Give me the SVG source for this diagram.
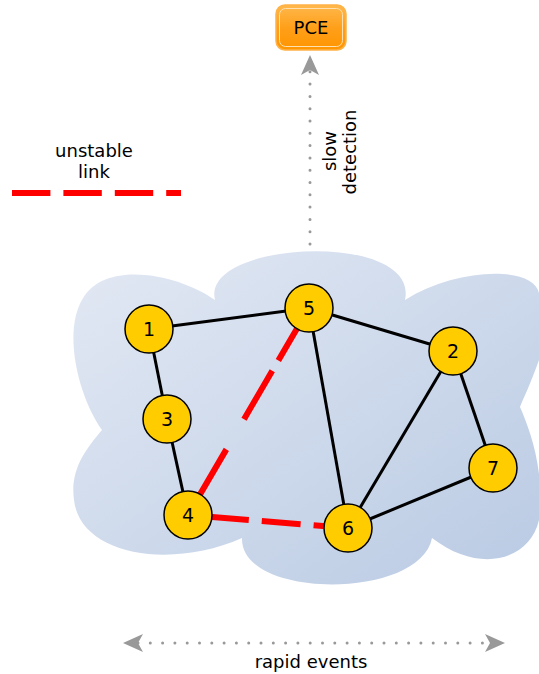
<svg xmlns="http://www.w3.org/2000/svg" width="539" height="674" viewBox="0 0 539 674">
<defs>
<linearGradient id="cloudG" x1="0" y1="0" x2="1" y2="1">
<stop offset="0" stop-color="#e3e9f4"/>
<stop offset="1" stop-color="#b9cae3"/>
</linearGradient>
<linearGradient id="pceG" x1="0" y1="0" x2="0" y2="1">
<stop offset="0" stop-color="#ffb84d"/>
<stop offset="0.5" stop-color="#ffa01a"/>
<stop offset="1" stop-color="#ff9500"/>
</linearGradient>
<marker id="arr" viewBox="0 0 20 18" refX="5" refY="9" markerWidth="20" markerHeight="18" markerUnits="userSpaceOnUse" orient="auto-start-reverse">
<path d="M0,0 L20,9 L0,18 L5,9 Z" fill="#999"/>
</marker>
</defs>
<style>
.edge{stroke:#000;stroke-width:3;fill:none}
.bad{stroke:#ff0000;stroke-width:6;fill:none}
.node circle{fill:#ffcc00;stroke:#000;stroke-width:1.5}
.node text{font-family:"DejaVu Sans",sans-serif;font-size:19px;text-anchor:middle;fill:#000}
.lbl{font-family:"DejaVu Sans",sans-serif;font-size:18px;text-anchor:middle;fill:#000}
.dot{stroke:#999;stroke-width:3;stroke-linecap:round;stroke-dasharray:0 12.3;fill:none}
</style>
<g id="cloud">
<path d="M215,300 C200,240 420,230 405,300 C460,265 545,265 539,300 L539,360 C530,385 525,395 520,407 C530,430 545,470 539,520 C530,560 480,575 432,538 C420,600 240,600 242,538 C170,570 80,555 74,500 C70,470 85,450 102,430 C80,400 60,330 85,295 C110,260 180,275 215,300 Z" fill="url(#cloudG)"/>
</g>
<g id="connectors">
<line class="edge" x1="149" y1="329" x2="309" y2="308"/>
<line class="edge" x1="149" y1="329" x2="167" y2="419"/>
<line class="edge" x1="167" y1="419" x2="188" y2="515"/>
<line class="edge" x1="309" y1="308" x2="453" y2="351"/>
<line class="edge" x1="309" y1="308" x2="348" y2="528"/>
<line class="edge" x1="453" y1="351" x2="348" y2="528"/>
<line class="edge" x1="453" y1="351" x2="493" y2="468"/>
<line class="edge" x1="493" y1="468" x2="348" y2="528"/>
<line class="bad" x1="188" y1="515" x2="309" y2="308" stroke-dasharray="76 35 56 12 80"/>
<line class="bad" x1="188" y1="515" x2="348" y2="528" stroke-dasharray="61 13 39 13 50"/>
<line class="dot" x1="310" y1="244" x2="310" y2="70" marker-end="url(#arr)"/>
<line class="dot" x1="138" y1="643" x2="490" y2="643" marker-start="url(#arr)" marker-end="url(#arr)"/>
</g>
<g id="n1" class="node"><circle cx="149" cy="329" r="24"/><text x="149" y="336">1</text></g>
<g id="n5" class="node"><circle cx="309" cy="308" r="24"/><text x="309" y="315">5</text></g>
<g id="n2" class="node"><circle cx="453" cy="351" r="24"/><text x="453" y="358">2</text></g>
<g id="n3" class="node"><circle cx="167" cy="419" r="24"/><text x="167" y="426">3</text></g>
<g id="n7" class="node"><circle cx="493" cy="468" r="24"/><text x="493" y="475">7</text></g>
<g id="n4" class="node"><circle cx="188" cy="515" r="24"/><text x="188" y="522">4</text></g>
<g id="n6" class="node"><circle cx="348" cy="528" r="24"/><text x="348" y="535">6</text></g>
<g id="pce">
<rect x="276" y="5" width="70" height="45" rx="9" fill="url(#pceG)" stroke="#ffb347" stroke-width="1.5"/>
<rect x="279.5" y="8.5" width="63" height="38" rx="6" fill="none" stroke="#ffe0b0" stroke-width="1"/>
<text class="lbl" x="311" y="34">PCE</text>
</g>
<g id="slowlabel">
<text class="lbl" transform="translate(336,151) rotate(-90)">slow</text>
<text class="lbl" transform="translate(356,152) rotate(-90)">detection</text>
</g>
<g id="legend">
<text class="lbl" x="94" y="157">unstable</text>
<text class="lbl" x="94" y="178">link</text>
<line x1="12" y1="193" x2="181" y2="193" stroke="#ff0000" stroke-width="6" stroke-dasharray="38.4 13"/>
</g>
<text class="lbl" x="311" y="668">rapid events</text>
</svg>
